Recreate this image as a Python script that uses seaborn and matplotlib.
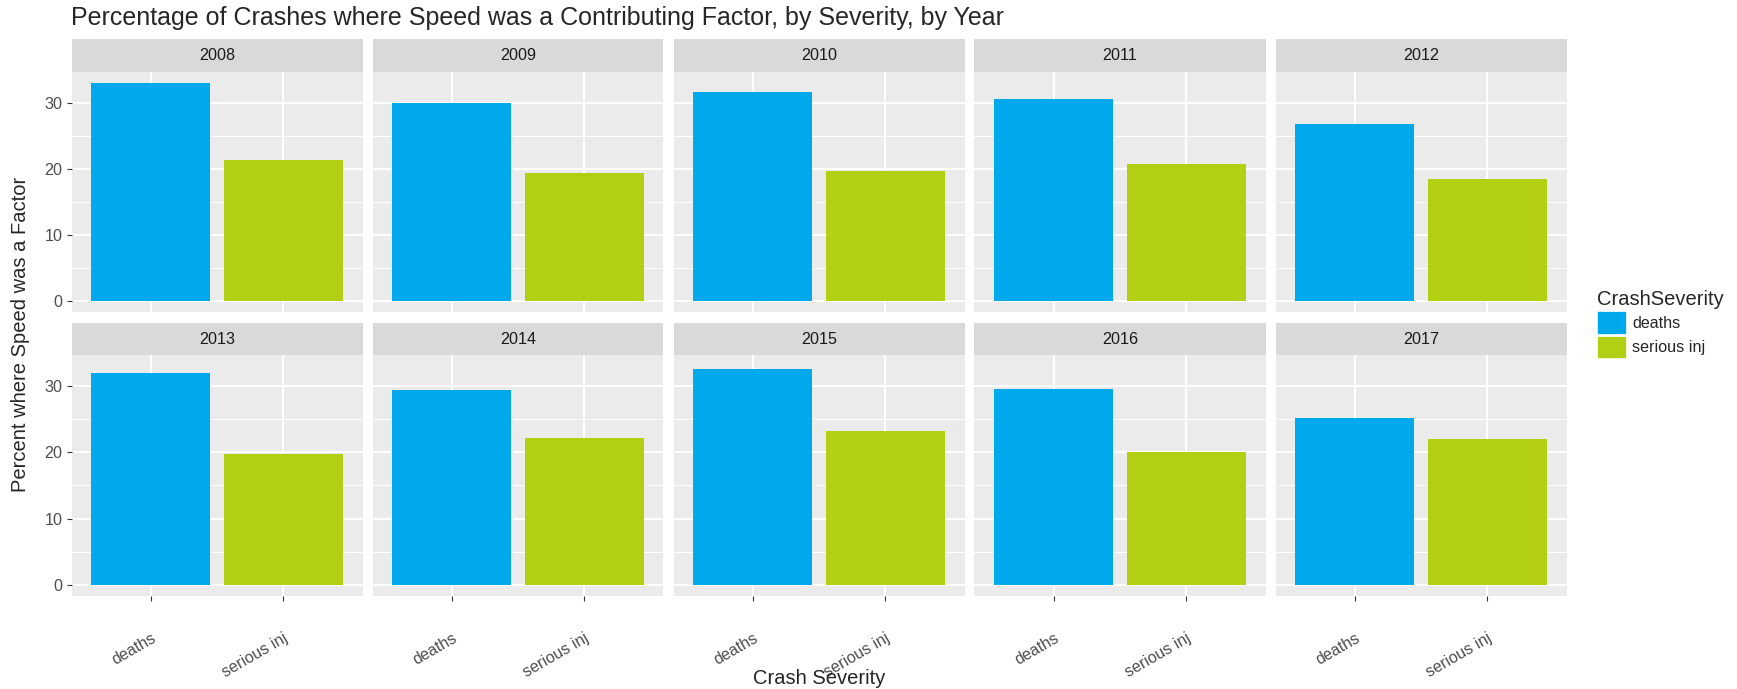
import numpy as np
import pandas as pd
import matplotlib
matplotlib.use('Agg')
import matplotlib.pyplot as plt
import seaborn as sns
from matplotlib.patches import Patch

# data
years = [2008, 2009, 2010, 2011, 2012, 2013, 2014, 2015, 2016, 2017]
severity = ['deaths', 'serious inj']
deaths = [33.0, 29.9, 31.6, 30.5, 26.8, 32.0, 29.4, 32.6, 29.5, 25.2]
serious_inj = [21.4, 19.4, 19.7, 20.8, 18.5, 19.8, 22.1, 23.2, 20.1, 22.0]
colors = {'deaths': '#00A8EC', 'serious inj': '#B3CF14'}

df = pd.DataFrame({'Year': years * 2,
                   'CrashSeverity': ['deaths'] * len(years) + ['serious inj'] * len(years),
                   'Percent': deaths + serious_inj})

sns.set_style('white')
plt.rcParams['font.family'] = ['Liberation Sans', 'DejaVu Sans']

W, H = 1737, 689
fig = plt.figure(figsize=(W / 100, H / 100), dpi=100)
fx = lambda p: p / W
fy = lambda p: 1 - p / H

left0, pw, gap = 71.5, 291, 10
rows = [(39, 72, 312), (323, 355, 596)]  # strip top, panel top, panel bottom
ymax = df['Percent'].max()
ylim = (-0.05 * ymax, 1.05 * ymax)

for i, yr in enumerate(years):
    r, c = divmod(i, 5)
    st, pt, pb = rows[r]
    x0 = left0 + c * (pw + gap)
    ax = fig.add_axes([fx(x0), fy(pb), pw / W, (pb - pt) / H])
    sub = df[df['Year'] == yr]
    sns.barplot(data=sub, x='CrashSeverity', y='Percent', hue='CrashSeverity',
                order=severity, hue_order=severity, palette=colors, width=0.9,
                saturation=1, errorbar=None, legend=False, linewidth=0, ax=ax)
    ax.set_facecolor('#EBEBEB')
    ax.set_xlim(-0.6, 1.6)
    ax.set_ylim(ylim)
    ax.set_yticks([0, 10, 20, 30])
    ax.set_yticks([5, 15, 25], minor=True)
    ax.grid(which='major', color='white', lw=1.5)
    ax.grid(which='minor', axis='y', color='white', lw=0.75)
    ax.set_axisbelow(True)
    for s in ax.spines.values():
        s.set_visible(False)
    ax.set_xlabel('')
    ax.set_ylabel('')
    ax.tick_params(axis='y', which='minor', length=0)
    ax.tick_params(axis='y', which='major', left=(c == 0), labelleft=(c == 0),
                   length=3.6, width=0.8, color='#333333', labelcolor='#4D4D4D',
                   labelsize=11.6, pad=3)
    if r == 1:
        ax.tick_params(axis='x', bottom=True, length=3.6, width=0.8, color='#333333',
                       labelcolor='#4D4D4D', labelsize=11.6, pad=21)
        for lbl in ax.get_xticklabels():
            lbl.set_rotation(30)
            lbl.set_ha('right')
            lbl.set_va('top')
            lbl.set_rotation_mode('anchor')
    else:
        ax.tick_params(axis='x', bottom=False, labelbottom=False)

    # facet strip
    sax = fig.add_axes([fx(x0), fy(pt), pw / W, (pt - st) / H])
    sax.set_facecolor('#D9D9D9')
    sax.set_xticks([])
    sax.set_yticks([])
    for s in sax.spines.values():
        s.set_visible(False)
    sax.text(0.5, 0.5, str(yr), ha='center', va='center', fontsize=11.6, color='#1A1A1A')

fig.text(fx(71), fy(25), 'Percentage of Crashes where Speed was a Contributing Factor, by Severity, by Year',
         fontsize=18, ha='left', va='baseline')
fig.text(fx(21), fy((72 + 596) / 2), 'Percent where Speed was a Factor', rotation=90,
         ha='center', va='center', fontsize=14.5)
fig.text(fx(819), fy(678), 'Crash Severity', ha='center', va='center', fontsize=14.5)

handles = [Patch(facecolor=colors[s], edgecolor='white', linewidth=0.5, label=s) for s in severity]
fig.legend(handles=handles, title='CrashSeverity', loc='upper left',
           bbox_to_anchor=(fx(1597), fy(290)), frameon=False, fontsize=11.6,
           title_fontsize=14.5, handlelength=1.8, handleheight=1.8, handletextpad=0.4,
           labelspacing=0.12, borderpad=0, borderaxespad=0, alignment='left')

fig.savefig('out.png', dpi=100)
